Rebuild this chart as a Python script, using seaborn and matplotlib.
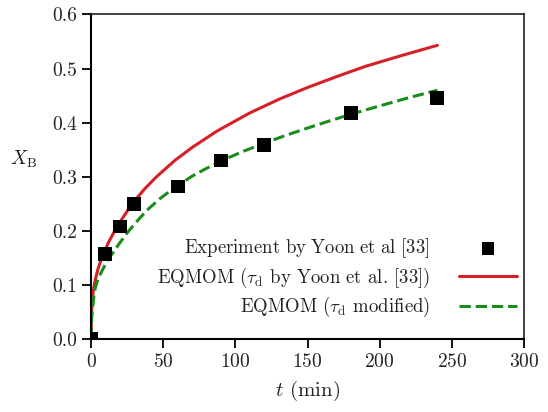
import matplotlib
matplotlib.use("Agg")
import matplotlib.pyplot as plt
import seaborn as sns

# Experimental data
exp_t = [0, 10, 20, 30, 60, 90, 120, 180, 240]
exp_x = [0.0, 0.157, 0.208, 0.250, 0.282, 0.330, 0.359, 0.418, 0.445]

# EQMOM (tau_d by Yoon et al.)
red_t = [0, 0.3, 1, 2, 3, 5, 8, 12, 16, 21, 26, 30, 37, 45, 58, 70, 87,
         110, 130, 150, 170, 190, 215, 240]
red_x = [0.0, 0.047, 0.076, 0.096, 0.110, 0.131, 0.154, 0.178, 0.198, 0.220,
         0.240, 0.255, 0.277, 0.299, 0.330, 0.354, 0.384, 0.418, 0.443, 0.465,
         0.485, 0.504, 0.524, 0.543]

# EQMOM (tau_d modified)
green_t = [0, 0.5, 1, 2, 3, 5, 8, 10, 14, 20, 25, 30, 35, 40, 48, 58, 70, 80,
           90, 105, 120, 135, 150, 165, 180, 200, 220, 240]
green_x = [0.0, 0.040, 0.055, 0.080, 0.095, 0.112, 0.128, 0.138, 0.155, 0.178,
           0.196, 0.212, 0.227, 0.241, 0.260, 0.280, 0.301, 0.3155, 0.329,
           0.3465, 0.362, 0.3765, 0.390, 0.403, 0.4155, 0.431, 0.446, 0.460]

labels = [r"$\mathrm{Experiment\ by\ Yoon\ et\ al\ [33]}_{\,}$",
          r"EQMOM ($\tau_\mathrm{d}$ by Yoon et al. [33])",
          r"EQMOM ($\tau_\mathrm{d}$ modified)"]

sns.set_style("ticks")
plt.rcParams["font.family"] = ["cmr10", "DejaVu Serif"]
plt.rcParams["mathtext.fontset"] = "cm"
plt.rcParams["axes.formatter.use_mathtext"] = True

fig = plt.figure(figsize=(5.48, 4.12), dpi=100)
ax = fig.add_axes([91/548, 1 - 339/412, 433/548, 324.5/412])

RED = "#d62027"
GREEN = "#1a8c1a"

sns.scatterplot(x=exp_t, y=exp_x, marker="s", s=100, color="black",
                edgecolor="none", ax=ax, label=labels[0], zorder=3)
sns.lineplot(x=red_t, y=red_x, color=RED, lw=2.2, ax=ax, label=labels[1],
             estimator=None, sort=False)
sns.lineplot(x=green_t, y=green_x, color=GREEN, lw=2.2, ax=ax, label=labels[2],
             estimator=None, sort=False, linestyle="--")

ax.set_xlim(0, 300)
ax.set_ylim(0, 0.6)
ax.set_xticks([0, 50, 100, 150, 200, 250, 300])
ax.set_yticks([0.0, 0.1, 0.2, 0.3, 0.4, 0.5, 0.6])
ax.set_yticklabels(["0.0", "0.1", "0.2", "0.3", "0.4", "0.5", "0.6"])

for s in ["left", "bottom"]:
    ax.spines[s].set_linewidth(1.5)
    ax.spines[s].set_color("black")
for s in ["top", "right"]:
    ax.spines[s].set_visible(True)
    ax.spines[s].set_linewidth(1.2)
    ax.spines[s].set_color("#222222")

ax.tick_params(axis="both", which="major", direction="out", length=6.5,
               width=1.3, labelsize=14, color="black", labelcolor="#222222",
               top=False, right=False)

ax.set_xlabel(r"$t$ (min)", fontsize=15, color="#222222", labelpad=6)
ax.set_ylabel(r"$X_\mathrm{B}$", fontsize=14, rotation=0, color="#222222")
ax.yaxis.set_label_coords(-0.155, 0.52)

leg = ax.legend(loc="lower right", bbox_to_anchor=(0.984, 0.061),
                frameon=False, markerfirst=False, fontsize=13.5,
                handlelength=3.1, handletextpad=1.55, labelspacing=0.28,
                borderpad=0, borderaxespad=0, markerscale=0.9)
for t in leg.get_texts():
    t.set_color("#222222")

fig.savefig("out.png", dpi=100)
